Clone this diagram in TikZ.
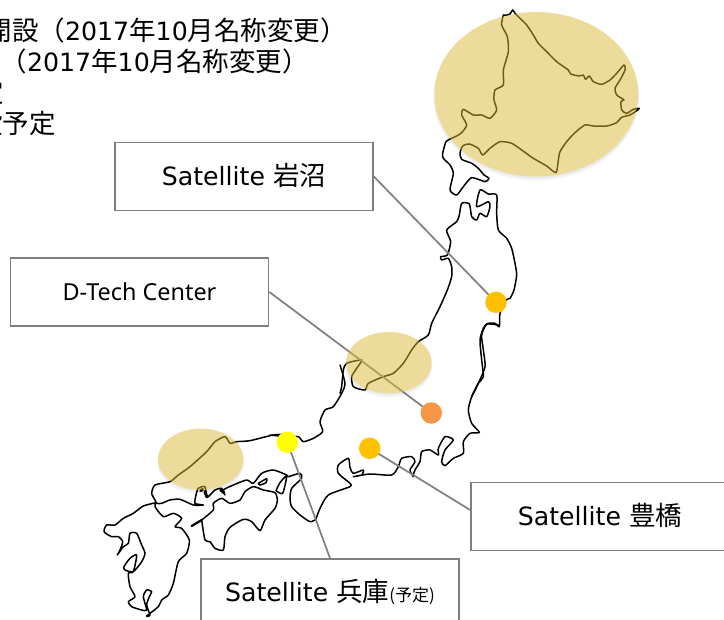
\documentclass[tikz,border=0pt]{standalone}
\usepackage{fontspec}
\setmainfont{DejaVu Sans}
\newfontfamily\cjk{Noto Sans CJK JP}
\newfontfamily\notosans{Noto Sans}
\newcommand{\lat}{\fontsize{25.2}{30}\selectfont}
\newcommand{\cj}[1]{{\fontsize{26.5}{30}\selectfont\cjk #1}}
\definecolor{boxgray}{HTML}{7F7F7F}
\definecolor{regionc}{HTML}{DBB937}
\definecolor{sitea}{HTML}{FFC000}
\definecolor{siteb}{HTML}{F79646}
\definecolor{sitec}{HTML}{FFFF00}
\tikzset{
  coast/.style={draw=black,line width=1.5pt,line join=round,line cap=round},
  box/.style={draw=boxgray,line width=1.7pt,fill=white,minimum width=258pt,minimum height=68pt,inner sep=0pt,text=black},
  link/.style={draw=boxgray,line width=1.7pt},
  region/.style={fill=regionc,fill opacity=.5},
  shade/.style={fill=black,fill opacity=.02},
  site/.style={circle,minimum size=21.4pt,inner sep=0pt},
  note/.style={anchor=east,inner sep=0pt,text=black}
}
\begin{document}
\begin{tikzpicture}[x=1pt,y=-1pt]
\useasboundingbox (0,0) rectangle (724,620);
\clip (0,0) rectangle (724,620);
\fill[white] (0,0) rectangle (724,620);
% soft shadows of the regions
\foreach \cx/\cy/\rx/\ry in {536.3/94.3/102/82.3,388.8/362.7/42.8/30.7,200.7/459.3/42.7/30.7}{
  \foreach \d in {1,2,3,4}{\fill[shade] (\cx,\cy+\d) ellipse [x radius=\rx pt+.5pt,y radius=\ry pt+.5pt];}
  \fill[white] (\cx,\cy) ellipse [x radius=\rx pt,y radius=\ry pt];
}
% Hokkaido
\begin{scope}[shift={(420,0)},scale=1/3]
\draw[coast] plot[smooth,tension=.4] coordinates {(250,45)(262,45)(270,42)(278,30)(285,40)(300,55)(320,75)(340,105)(355,130)(380,155)(410,185)(445,210)(452,222)(478,228)(490,225)(497,238)(508,228)(520,245)(545,253)(570,240)(590,220)(612,195)(615,210)(600,240)(585,265)(590,285)(605,295)(612,300)(603,305)(605,330)(620,340)(640,328)(658,325)(650,332)(630,345)(605,352)(590,368)(560,378)(520,378)(495,375)(465,398)(440,425)(420,455)(415,480)(408,518)(380,498)(340,475)(305,450)(275,430)(240,425)(210,445)(188,465)(175,445)(148,432)(128,438)(120,460)(125,478)(155,490)(175,505)(192,525)(207,535)(195,545)(155,533)(130,560)(110,585)(90,570)(100,520)(90,495)(70,475)(68,460)(78,425)(95,415)(110,408)(125,398)(140,375)(125,345)(130,328)(160,345)(185,345)(210,355)(230,330)(222,300)(225,270)(250,255)(250,210)(265,155)(262,110)(245,75)(250,45)};
\end{scope}
% Tohoku, north
\begin{scope}[shift={(340,180)},scale=1/3]
\draw[coast] plot[smooth,tension=.4] coordinates {(0,640)(5,620)(10,570)(20,550)(65,540)(50,565)(35,590)(40,620)(75,630)(85,610)(130,590)(160,580)(190,550)(215,510)(235,485)(265,465)(275,430)(300,380)(322,330)(335,290)(335,260)(325,235)(305,240)(302,230)(322,225)(332,185)(320,150)(350,125)(358,105)(365,70)(388,72)(395,110)(410,120)(420,100)(440,110)(450,80)(445,65)(410,80)(420,30)(445,42)(470,45)(470,100)(475,150)(500,175)(515,205)(525,250)(530,285)(522,330)(510,355)(498,360)(480,400)(478,440)(465,430)(440,432)(425,465)(430,510)(435,560)(415,610)(395,650)};
\end{scope}
% Kanto east coast
\begin{scope}[shift={(400,300)},scale=1/3]
\draw[coast] plot[smooth,tension=.4] coordinates {(295,75)(262,72)(250,85)(240,120)(245,180)(250,230)(235,250)(215,290)(205,330)(215,370)(238,397)(210,400)(190,425)(190,460)(160,475)(135,497)(125,485)(135,450)(160,420)(135,410)(115,445)(115,465)(90,450)(65,455)(60,485)(45,510)(40,525)};
\end{scope}
% Sea of Japan coast
\begin{scope}[shift={(270,380)},scale=1/3]
\draw[coast] plot[smooth,tension=.4] coordinates {(210,-45)(225,10)(215,40)(190,80)(165,90)(150,125)(158,155)(130,175)(100,185)(85,170)(50,170)(0,165)};
\draw[coast] plot[smooth,tension=.4] coordinates {(138,417)(150,385)(175,345)(240,320)(240,310)(205,280)(205,255)(235,235)(240,262)(250,280)(280,270)(275,285)(250,290)(300,282)(365,285)(385,260)(395,235)(425,230)(435,245)(420,270)(430,290)};
\end{scope}
% West Honshu, Shikoku, Kyushu
\begin{scope}[shift={(90,420)},scale=1/3]
\draw[coast] plot[smooth,tension=.4] coordinates {(600,42)(550,45)(480,62)(440,65)(420,70)(405,50)(375,65)(350,95)(300,140)(265,165)(240,185)(195,195)(185,220)(195,240)(200,250)(215,250)(240,240)(270,238)(310,255)(340,255)(315,250)(318,225)(325,205)(345,200)(350,232)(360,225)(375,210)(395,205)(405,225)(400,210)(430,195)(470,180)(490,190)(515,160)(550,150)(590,165)(595,170)(630,160)(635,175)(605,205)(600,235)(605,260)(630,285)(660,305)(678,298)};
\draw[coast,line width=3pt] (332,212)--(338,208);
\draw[coast,line width=3pt] (345,215)--(350,230);
\draw[coast,line width=3pt] (392,210)--(402,218);
\draw[coast,line width=2.2pt] (305,318)--(335,300);
\end{scope}
\begin{scope}[shift={(190,440)},scale=1/3]
\draw[coast] plot[smooth,tension=.4] coordinates {(35,240)(70,210)(70,190)(95,175)(120,190)(150,180)(165,155)(190,140)(220,150)(255,158)(262,180)(255,205)(225,240)(210,272)(185,245)(160,238)(120,262)(105,290)(100,330)(75,325)(60,305)(45,300)(35,240)};
\draw[coast] plot[smooth,tension=.4] coordinates {(258,152)(270,128)(290,108)(278,160)(258,152)};
\draw[coast] plot[smooth,tension=.4] coordinates {(205,130)(230,116)(228,128)(210,135)(205,130)};
\end{scope}
\begin{scope}[shift={(100,490)},scale=1/3]
\draw[coast] plot[smooth,tension=.4] coordinates {(168,38)(130,48)(100,70)(70,85)(45,105)(20,105)(12,125)(35,140)(55,140)(68,155)(60,180)(52,195)(70,170)(85,160)(90,130)(110,130)(125,165)(135,190)(125,215)(100,245)(75,240)(72,230)(90,205)(110,195)(100,245)(85,250)(90,290)(105,320)(85,335)(95,350)(125,360)(140,360)(130,320)(140,300)(155,305)(148,320)(140,345)(150,375)(140,378)(175,350)(185,330)(205,315)(220,280)(235,215)(260,190)(268,150)(245,115)(225,110)(245,85)(220,70)(190,80)(165,50)(168,38)};
\end{scope}
% boxes
\node[box] (iwanuma) at (244,176.5) {\raisebox{4pt}{\lat Satellite \cj{岩沼}}};
\node[box] (dtech) at (139.5,292) {\notosans\fontsize{23.4}{26}\selectfont D-Tech Center};
\node[box] (toyo) at (600,516.5) {\raisebox{4pt}{\lat Satellite \cj{豊橋}}};
\node[box] (hyogo) at (330,593) {\raisebox{5pt}{\lat Satellite \cj{兵庫}{\fontsize{17}{18}\selectfont\cjk (予定)}}};
% sites
\coordinate (siw) at (496,302.3);
\coordinate (sdt) at (431.3,413);
\coordinate (sto) at (369.7,448.3);
\coordinate (shy) at (287.3,442.3);
\draw[link] (iwanuma.east) -- (siw);
\draw[link] (dtech.east) -- (sdt);
\draw[link] (sto) -- ([yshift=6.5pt]toyo.west);
\draw[link] (shy) -- (hyogo.north);
% regions
\foreach \cx/\cy/\rx/\ry in {536.3/94.3/102/82.3,388.8/362.7/42.8/30.7,200.7/459.3/42.7/30.7}{
  \fill[region] (\cx,\cy) ellipse [x radius=\rx pt,y radius=\ry pt];
}
\node[site,fill=sitea] (niwa) at (siw) {};
\node[site,fill=siteb] (ndte) at (sdt) {};
\node[site,fill=sitea] (ntoy) at (sto) {};
\node[site,fill=sitec] (nhyo) at (shy) {};
% notes
\node[note] (n1) at (347,30) {\cj{開設（}\lat 2017\cj{年}10\cj{月名称変更）}};
\node[note] (n2) at (309,61) {\cj{（}\lat 2017\cj{年}10\cj{月名称変更）}};
\node[note] (n3) at (4,92) {\cj{定}};
\node[note] (n4) at (56,123) {\cj{設予定}};
\end{tikzpicture}
\end{document}
